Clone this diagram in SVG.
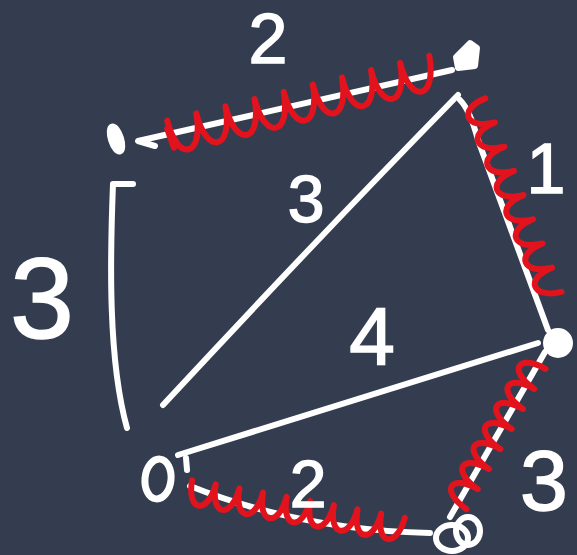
<svg xmlns="http://www.w3.org/2000/svg" width="577" height="555" viewBox="0 0 577 555">
<style>
.bg{fill:#343d50}
.w{fill:none;stroke:#ffffff;stroke-width:6;stroke-linecap:round;stroke-linejoin:round}
.wf{fill:#ffffff;stroke:#ffffff;stroke-width:6;stroke-linejoin:round}
.r{fill:none;stroke:#e3131e;stroke-width:6;stroke-linecap:round;stroke-linejoin:round}
.lbl{font-family:"Liberation Sans",Arial,sans-serif;fill:#ffffff;stroke:#ffffff;stroke-width:1.5;text-anchor:middle}
</style>
<rect class="bg" x="0" y="0" width="577" height="555"/>
<g id="connectors">
  <path class="w" d="M155,146 L138,141 L452,70"/>
  <path class="w" d="M133,184 L113,184 C110,260 108,360 127,428"/>
  <path class="w" d="M458,95 Q318,238 163,405"/>
  <path class="w" d="M460,100 Q470,110 478,140 L548,330"/>
  <path class="w" d="M178,455 L538,343"/>
  <path class="w" d="M186,458 L187,470 M190,486 Q300,530 430,533"/>
  <path class="w" d="M545,352 L450,517"/>
  <g id="mst">
    <path class="r" transform="translate(172,140) rotate(-13.9)" d="M-2,-12 L0,8 M0,-20 c0,44 27,44 30,0 c0,44 27,44 30,0 c0,44 27,44 30,0 c0,44 27,44 30,0 c0,44 27,44 30,0 c0,44 27,44 30,0 c0,44 27,44 30,0 c0,44 27,44 30,0 c0,44 27,44 30,0"/>
    <path class="r" transform="translate(476,102) rotate(68.5)" d="M0,-10 c0,30 22,30 26,0 c0,30 22,30 26,0 c0,30 22,30 26,0 c0,30 22,30 26,0 c0,30 22,30 26,0 c0,30 22,30 26,0 c0,30 22,30 26,0 c0,30 22,30 26,0"/>
    <path class="r" transform="translate(535,363) rotate(119.4)" d="M0,-12 c0,32 20,32 23,0 c0,32 20,32 23,0 c0,32 20,32 23,0 c0,32 20,32 23,0 c0,32 20,32 23,0 c0,32 20,32 23,0 c0,32 20,32 23,0"/>
    <path class="r" transform="translate(190,492) rotate(10)" d="M0,-12 c0,32 21,32 24,0 c0,32 21,32 24,0 c0,32 21,32 24,0 c0,32 21,32 24,0 c0,32 21,32 24,0 c0,32 21,32 24,0 c0,32 21,32 24,0 c0,32 21,32 24,0 c0,32 21,32 24,0"/>
  </g>
</g>
<g id="node-tl"><ellipse class="wf" cx="116" cy="139" rx="5" ry="13" transform="rotate(-18 116 139)"/></g>
<g id="node-tr"><path class="wf" d="M456,57 L470,43 L477,48 L475,66 L458,68 Z"/></g>
<g id="node-r"><circle class="wf" cx="558" cy="343" r="12"/></g>
<g id="node-bl"><ellipse class="w" style="stroke-width:7" cx="158" cy="479" rx="13" ry="20" transform="rotate(6 158 479)"/></g>
<g id="node-br">
  <ellipse class="w" cx="452" cy="538" rx="16" ry="13"/>
  <ellipse class="w" cx="468" cy="531" rx="12" ry="14"/>
</g>
<g id="labels">
  <text class="lbl" x="268" y="63" font-size="70">2</text>
  <text class="lbl" x="546" y="193" font-size="70">1</text>
  <text class="lbl" x="306" y="222" font-size="66">3</text>
  <text class="lbl" x="42" y="338" font-size="115">3</text>
  <text class="lbl" x="372" y="365" font-size="82">4</text>
  <text class="lbl" x="308" y="507" font-size="66">2</text>
  <text class="lbl" x="544" y="510" font-size="86">3</text>
</g>
</svg>
